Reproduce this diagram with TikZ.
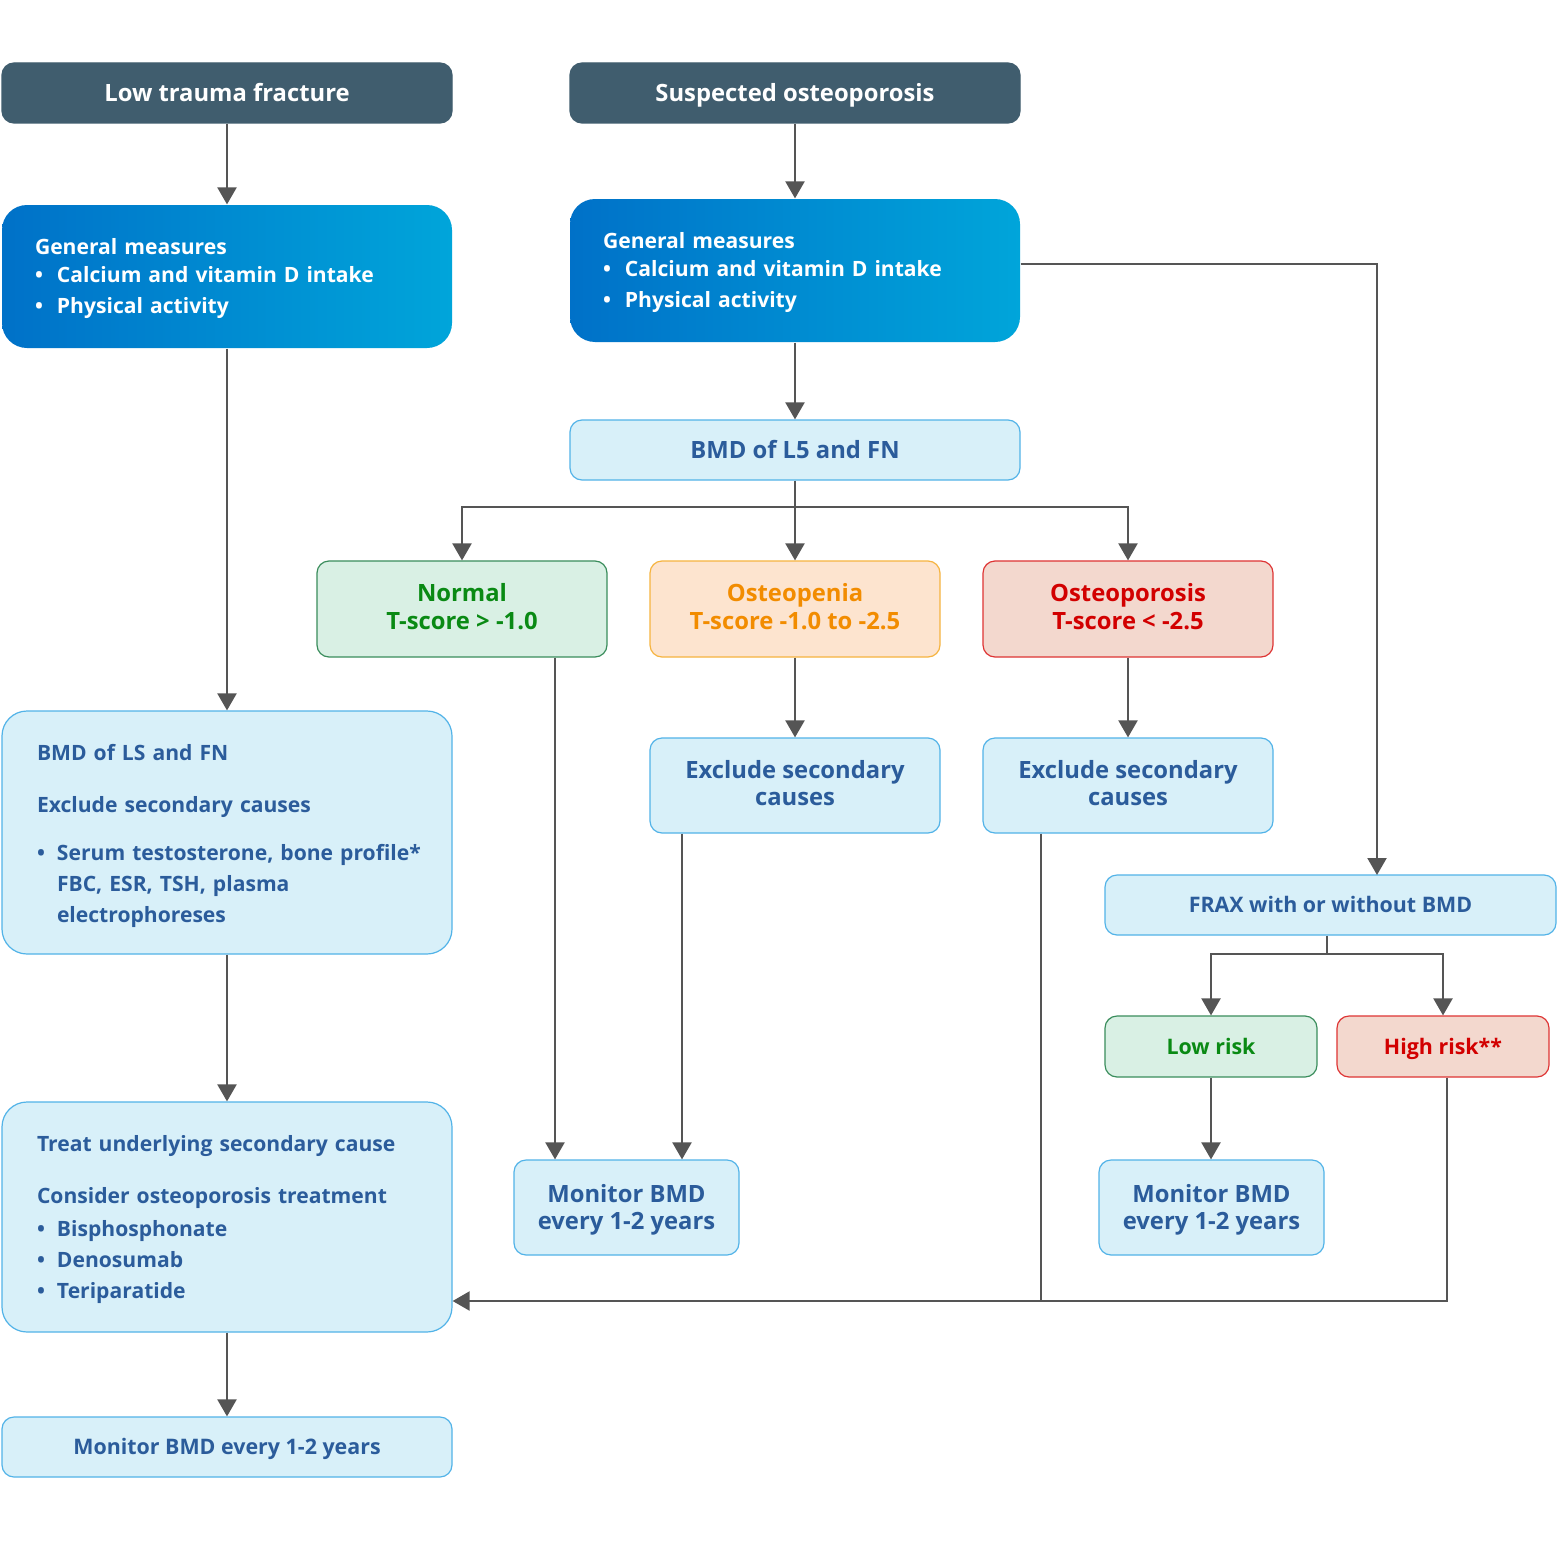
\documentclass[tikz,border=0pt]{standalone}
\usepackage{fontspec}
\setmainfont{Open Sans}
\usetikzlibrary{arrows.meta}
\definecolor{slate}{HTML}{405D6E}
\definecolor{gA}{HTML}{0071C8}
\definecolor{gB}{HTML}{00A5DA}
\definecolor{lbfill}{HTML}{D8F0F9}
\definecolor{lbdraw}{HTML}{52B3E8}
\definecolor{tblue}{HTML}{2B5C9B}
\definecolor{gfill}{HTML}{D9F0E4}
\definecolor{gdraw}{HTML}{3A8D5C}
\definecolor{gtext}{HTML}{0A8A14}
\definecolor{ofill}{HTML}{FDE4CF}
\definecolor{odraw}{HTML}{F6B440}
\definecolor{otext}{HTML}{F28C00}
\definecolor{rfill}{HTML}{F3D8CE}
\definecolor{rdraw}{HTML}{DE3434}
\definecolor{rtext}{HTML}{D20000}
\definecolor{arrc}{HTML}{555555}
\newcommand\bul{\makebox[10pt][l]{•}}
\newcommand\bulg{\makebox[11pt][l]{•}}
\newcommand\fsmall{\fontsize{10.55}{15.5}\selectfont}
\newcommand\fgm{\fontsize{10.55}{15.25}\selectfont}
\newcommand\fmid{\fontsize{10.7}{14}\selectfont}
\newcommand\fbig{\fontsize{11.9}{13.8}\selectfont}
\begin{document}
\begin{tikzpicture}[x=0.5pt,y=-0.5pt,
  box/.style={rounded corners=6pt, line width=0.6pt, inner sep=0pt, align=center, font=\bfseries\fsmall},
  one/.style={font=\bfseries\fmid, text height=7.65pt, text depth=0pt},
  onebig/.style={font=\bfseries\fbig, text height=8.5pt, text depth=0pt},
  two/.style={font=\bfseries\fbig, text height=22.3pt, text depth=0pt},
  dark/.style={box, onebig, fill=slate, draw=slate, text=white, minimum width=225pt, minimum height=30pt},
  grad/.style={box, font=\bfseries\fgm, rounded corners=12.5pt, left color=gA, right color=gB, draw=none, text=white, align=left, text width=192pt, minimum width=225pt, minimum height=71.5pt},
  lb/.style={box, fill=lbfill, draw=lbdraw, text=tblue},
  lbl/.style={lb, rounded corners=12.5pt, align=left, minimum width=225pt},
  grn/.style={box, fill=gfill, draw=gdraw, text=gtext},
  org/.style={box, fill=ofill, draw=odraw, text=otext},
  red/.style={box, fill=rfill, draw=rdraw, text=rtext},
  cat/.style={two, text depth=2pt, minimum width=145pt, minimum height=48pt},
  arr/.style={draw=arrc, line width=1.1pt, -{Triangle[width=9.5pt,length=8.5pt]}},
  ln/.style={draw=arrc, line width=1.1pt}
]
\useasboundingbox (0,0) rectangle (1558,1541);
\fill[white] (0,0) rectangle (1558,1541);

% left column
\node[dark] (ltf) at (227,93) {Low trauma fracture};
\node[grad] (gm1) at (227,276.5) {\rule{0pt}{10pt}General measures\\[-1.25pt]\bulg Calcium and vitamin D intake\\\bulg Physical activity};
\node[lbl, text width=190pt, minimum height=121.5pt] (bmdls) at (227,832.5)
 {\rule{0pt}{12pt}BMD of LS and FN\\[10.5pt]Exclude secondary causes\\[8.5pt]\mbox{\bul Serum testosterone, bone profile*}\\\hspace*{10pt}FBC, ESR, TSH, plasma\\\hspace*{10pt}electrophoreses};
\node[lbl, text width=190pt, minimum height=115pt] (treat) at (227,1217)
 {\rule{0pt}{11pt}Treat underlying secondary cause\\[10.5pt]Consider osteoporosis treatment\\[1pt]\bul Bisphosphonate\\\bul Denosumab\\\bul Teriparatide};
\node[lb, one, minimum width=225pt, minimum height=30pt] (mon3) at (227,1447) {Monitor BMD every 1-2 years};

% middle / right
\node[dark] (sus) at (795,93) {Suspected osteoporosis};
\node[grad] (gm2) at (795,270.5) {\rule{0pt}{10pt}General measures\\[-1.25pt]\bulg Calcium and vitamin D intake\\\bulg Physical activity};
\node[lb, onebig, minimum width=225pt, minimum height=30pt] (bmd5) at (795,450) {BMD of L5 and FN};
\node[grn, cat] (nor) at (462,609) {Normal\\T-score > -1.0};
\node[org, cat] (pen) at (795,609) {Osteopenia\\T-score -1.0 to -2.5};
\node[red, cat] (por) at (1128,609) {Osteoporosis\\T-score < -2.5};
\node[lb, two, text depth=2pt, minimum width=145pt, minimum height=47.5pt] (ex1) at (795,785.5) {Exclude secondary\\causes};
\node[lb, two, text depth=2pt, minimum width=145pt, minimum height=47.5pt] (ex2) at (1128,785.5) {Exclude secondary\\causes};
\node[lb, one, minimum width=225.5pt, minimum height=30pt] (frax) at (1330.5,905) {FRAX with or without BMD};
\node[grn, one, minimum width=106pt, minimum height=30.5pt] (low) at (1211,1046.5) {Low risk};
\node[red, one, minimum width=106pt, minimum height=30.5pt] (high) at (1443,1046.5) {High risk**};
\node[lb, two, minimum width=112.5pt, minimum height=47.5pt] (mon1) at (626.5,1207.5) {Monitor BMD\\every 1-2 years};
\node[lb, two, minimum width=112.5pt, minimum height=47.5pt] (mon2) at (1211.5,1207.5) {Monitor BMD\\every 1-2 years};

% connectors left
\draw[arr] (ltf) -- (gm1);
\draw[arr] (gm1) -- (bmdls);
\draw[arr] (bmdls) -- (treat);
\draw[arr] (treat) -- (mon3);

% connectors middle
\draw[arr] (sus) -- (gm2);
\draw[arr] (gm2) -- (bmd5);
\coordinate (c1) at (1377,875);
\draw[arr] ([yshift=3.25pt]gm2.east) -| (c1);
\coordinate (j1) at (795,507);
\draw[ln] (bmd5) -- (j1);
\draw[arr] (j1) -| (nor.north);
\draw[arr] (j1) -- (pen.north);
\draw[arr] (j1) -| (por.north);
\coordinate (nb) at ([xshift=46.5pt]nor.south);
\draw[arr] (nb) -- (nb |- mon1.north);
\draw[arr] (pen) -- (ex1);
\coordinate (e1b) at ([xshift=-56.5pt]ex1.south);
\draw[arr] (e1b) -- (e1b |- mon1.north);
\draw[arr] (por) -- (ex2);
\coordinate (tin) at ([yshift=-42pt]treat.east);
\coordinate (e2b) at ([xshift=-43.5pt]ex2.south);
\draw[ln] (e2b) -- (e2b |- tin);
\coordinate (j2) at (1327,954);
\draw[ln] (j2 |- frax.south) -- (j2);
\draw[arr] (j2) -| (low.north);
\draw[arr] (j2) -| (high.north);
\draw[arr] (low.south) -- (low.south |- mon2.north);
\coordinate (hb) at ([xshift=2pt]high.south);
\draw[arr] (hb) |- (tin);
\end{tikzpicture}
\end{document}
